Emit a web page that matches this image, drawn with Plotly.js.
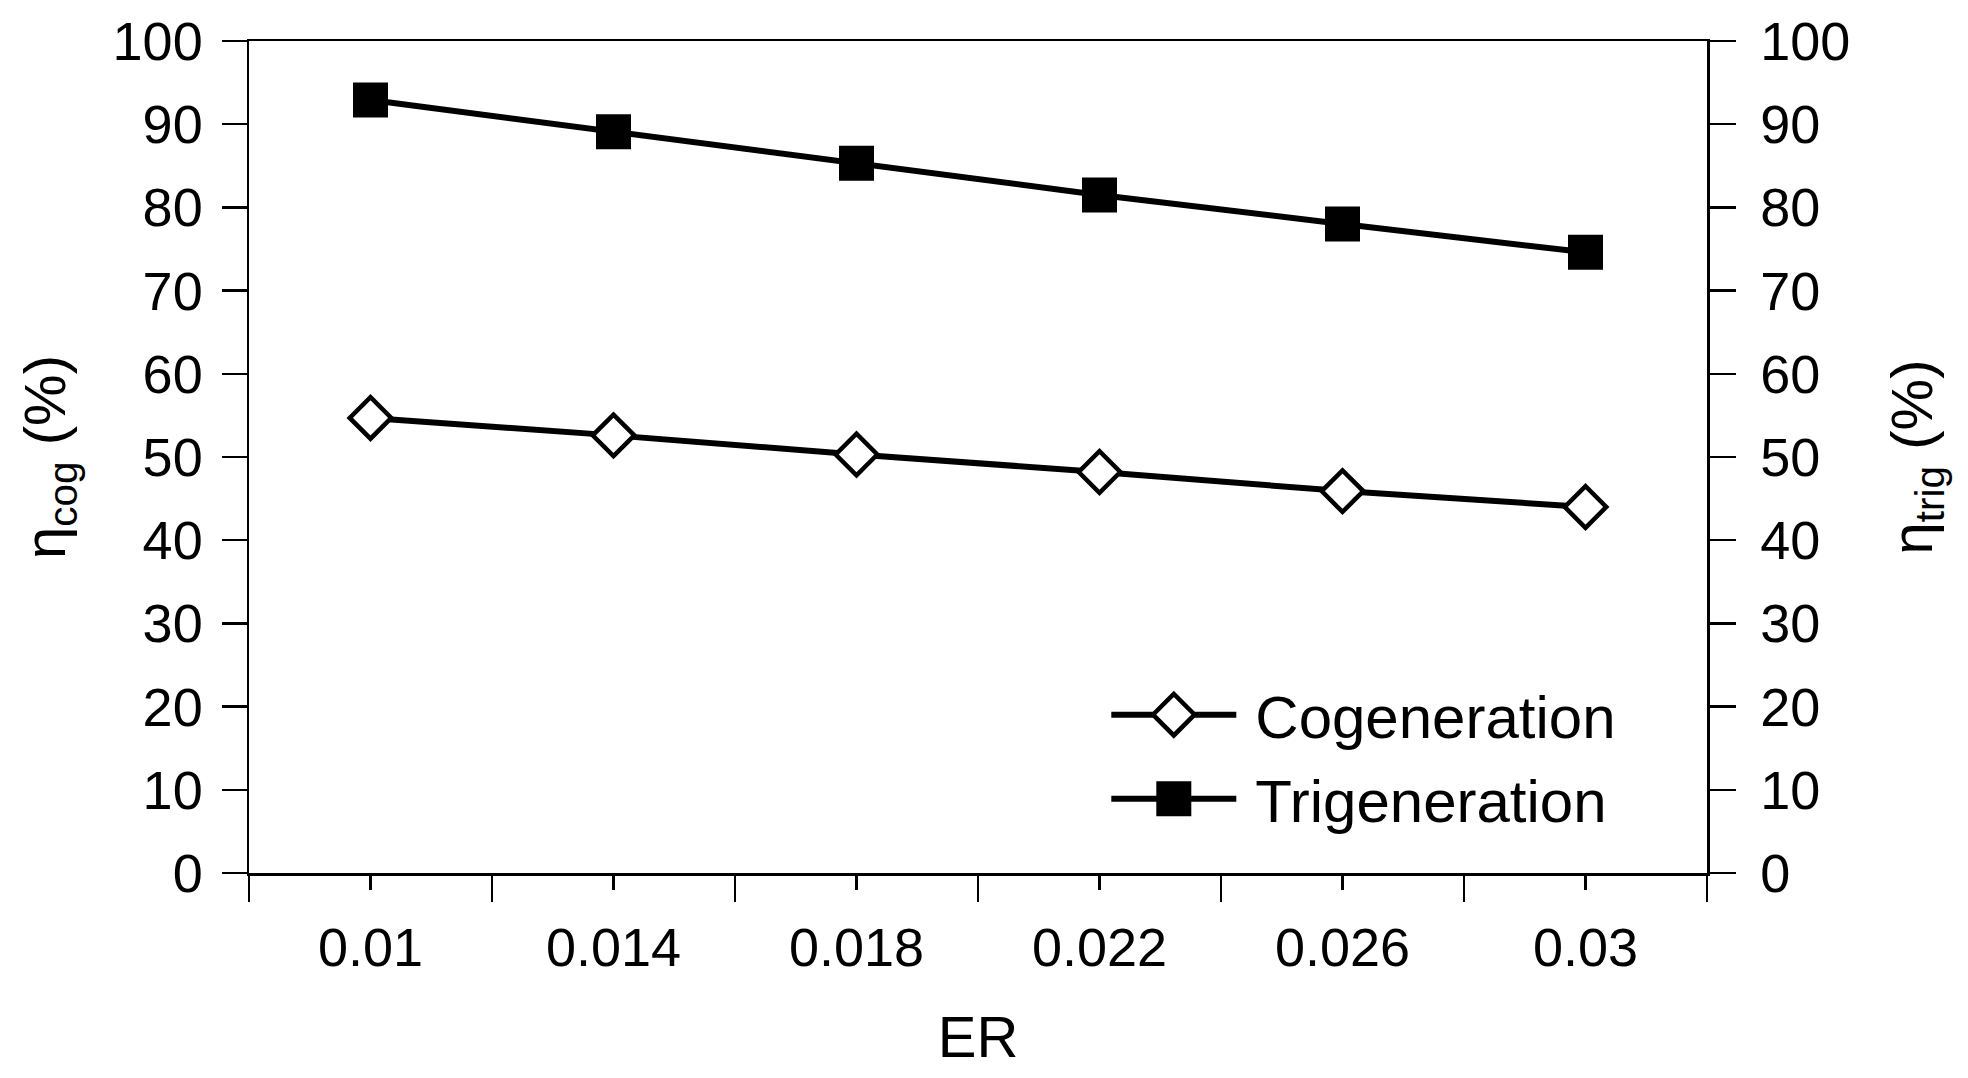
<!DOCTYPE html>
<html>
<head>
<meta charset="utf-8">
<script src="https://cdn.plot.ly/plotly-3.0.1.min.js"></script>
<style>
  html, body { margin: 0; padding: 0; background: #ffffff; }
  #chart { width: 1968px; height: 1078px; }
</style>
</head>
<body>
<div id="chart"></div>
<script>
// ---- data ----
var er = [0.01, 0.014, 0.018, 0.022, 0.026, 0.03];
var erLabels = ['0.01', '0.014', '0.018', '0.022', '0.026', '0.03'];
var cogeneration = [54.7, 52.6, 50.3, 48.2, 45.9, 44.0];
var trigeneration = [92.9, 89.1, 85.3, 81.5, 78.0, 74.6];
var seriesNames = ['Cogeneration', 'Trigeneration'];

var FONT = 'Liberation Sans, Arial, Helvetica, sans-serif';
var diamondSize = 32, diamondLine = 4.5;
var squareSize = 35;
var lineWidth = 6;

var traces = [
  {
    x: er, y: cogeneration, name: seriesNames[0], type: 'scatter', mode: 'lines+markers',
    yaxis: 'y', legendgroup: 'g1',
    line: { color: '#000000', width: lineWidth },
    marker: { symbol: 'diamond', size: diamondSize, color: '#ffffff',
              line: { color: '#000000', width: diamondLine } }
  },
  {
    x: er, y: trigeneration, name: seriesNames[1], type: 'scatter', mode: 'lines+markers',
    yaxis: 'y2', legendgroup: 'g2',
    line: { color: '#000000', width: lineWidth },
    marker: { symbol: 'square', size: squareSize, color: '#000000',
              line: { color: '#000000', width: 0 } }
  }
];

var axisLine = { showline: true, linecolor: '#000000', linewidth: 2.5,
                 showgrid: false, zeroline: false, tickcolor: '#000000', tickwidth: 2.5 };

var layout = {
  width: 1968, height: 1078,
  margin: { l: 249, r: 261, t: 41, b: 205, pad: 0 },
  paper_bgcolor: '#ffffff', plot_bgcolor: '#ffffff',
  font: { family: FONT, color: '#000000', size: 54 },
  showlegend: true,
  legend: {
    x: 0.588, y: 0.245, xanchor: 'left', yanchor: 'top',
    bgcolor: 'rgba(0,0,0,0)', borderwidth: 0,
    font: { family: FONT, size: 60, color: '#000000' },
    itemwidth: 125, traceorder: 'grouped', tracegroupgap: 3
  },
  xaxis: Object.assign({}, axisLine, {
    range: [0.008, 0.032],
    mirror: true,
    tickmode: 'array', tickvals: er, ticktext: erLabels,
    ticks: 'outside', ticklen: 14, ticklabelstandoff: 12,
    tickfont: { family: FONT, size: 54 },
    minor: { tickmode: 'linear', tick0: 0.008, dtick: 0.004, ticks: 'outside',
             ticklen: 26, tickwidth: 2.5, tickcolor: '#000000', showgrid: false },
    title: { text: 'ER', font: { family: FONT, size: 58 }, standoff: 40 }
  }),
  yaxis: Object.assign({}, axisLine, {
    range: [0, 100], tickmode: 'linear', tick0: 0, dtick: 10,
    ticks: 'outside', ticklen: 25, ticklabelstandoff: 8,
    tickfont: { family: FONT, size: 54 },
    title: { text: 'η<sub>cog</sub> (%)', font: { family: FONT, size: 58 }, standoff: 29 }
  }),
  yaxis2: Object.assign({}, axisLine, {
    overlaying: 'y', side: 'right',
    range: [0, 100], tickmode: 'linear', tick0: 0, dtick: 10,
    ticks: 'outside', ticklen: 26, ticklabelstandoff: 14,
    tickfont: { family: FONT, size: 54 },
    title: { text: 'η<sub>trig</sub> (%)', font: { family: FONT, size: 58 }, standoff: 42 }
  })
};

var gd = document.getElementById('chart');
Plotly.newPlot(gd, traces, layout, { staticPlot: true, displayModeBar: false }).then(function () {
  // enlarge legend symbols to match the plotted marker sizes (legend caps them at 16px)
  var targets = [{ size: diamondSize, lw: diamondLine }, { size: squareSize, lw: 0 }];
  var items = gd.querySelectorAll('.legend .traces');
  items.forEach(function (tr, i) {
    var t = targets[i];
    if (!t) return;
    var k = t.size / 16;
    tr.querySelectorAll('.legendpoints path.scatterpts').forEach(function (p) {
      var tf = p.getAttribute('transform') || '';
      p.setAttribute('transform', tf + ' scale(' + k + ')');
      p.style.strokeWidth = (t.lw / k) + 'px';
    });
    // a little more room between the legend sample and its label
    tr.querySelectorAll('text.legendtext').forEach(function (txt) {
      var x = parseFloat(txt.getAttribute('x') || '0');
      txt.setAttribute('x', x + 14);
    });
  });
  // the shifted labels must not be clipped by the legend box
  gd.querySelectorAll('.legend [clip-path]').forEach(function (el) {
    el.removeAttribute('clip-path');
  });
});
</script>
</body>
</html>
